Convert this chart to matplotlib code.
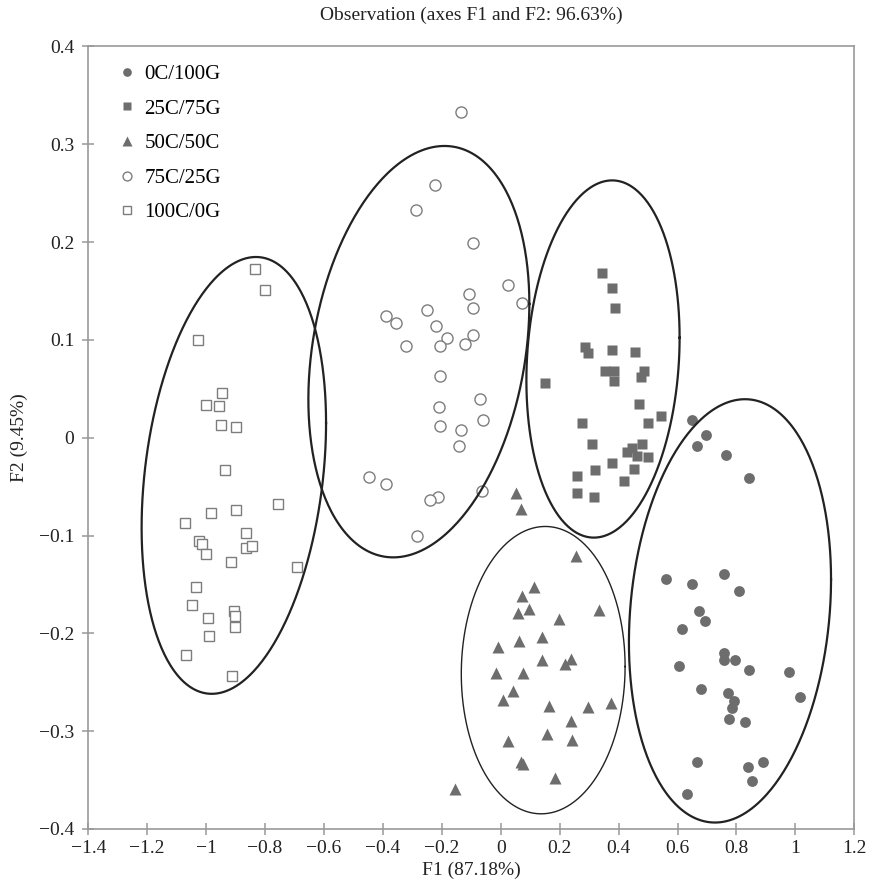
import numpy as np
import matplotlib.pyplot as plt
from matplotlib.ticker import FuncFormatter, MultipleLocator

plt.rcParams['font.family'] = ['Liberation Serif', 'DejaVu Serif']

# observation scores on F1 / F2, by blend
f1_0c = [0.649, 0.697, 0.667, 0.765, 0.843, 0.561, 0.649, 0.756, 0.809, 0.673,
         0.692, 0.615, 0.756, 0.758, 0.794, 0.843, 0.980, 0.605, 0.679, 0.771,
         0.790, 0.785, 1.014, 0.775, 0.828, 0.667, 0.838, 0.890, 0.853, 0.631]
f2_0c = [0.018, 0.003, -0.008, -0.018, -0.041, -0.144, -0.150, -0.139, -0.157, -0.177,
         -0.187, -0.196, -0.220, -0.227, -0.227, -0.237, -0.240, -0.233, -0.257, -0.261,
         -0.269, -0.276, -0.265, -0.288, -0.291, -0.332, -0.337, -0.331, -0.351, -0.364]

f1_25c = [0.345, 0.379, 0.388, 0.286, 0.297, 0.379, 0.457, 0.355, 0.385, 0.385,
          0.486, 0.476, 0.150, 0.470, 0.544, 0.277, 0.499, 0.310, 0.481, 0.447,
          0.428, 0.462, 0.499, 0.379, 0.321, 0.451, 0.258, 0.419, 0.258, 0.316]
f2_25c = [0.168, 0.153, 0.133, 0.093, 0.087, 0.090, 0.088, 0.068, 0.068, 0.058,
          0.068, 0.062, 0.056, 0.034, 0.022, 0.015, 0.015, -0.006, -0.006, -0.010,
          -0.015, -0.019, -0.020, -0.026, -0.033, -0.032, -0.039, -0.044, -0.057, -0.061]

f1_50c = [0.053, 0.067, 0.257, 0.112, 0.072, 0.096, 0.059, 0.335, 0.199, -0.010,
          0.062, 0.140, 0.140, 0.240, 0.219, -0.015, 0.077, 0.043, 0.009, 0.164,
          0.295, 0.374, 0.238, 0.025, 0.158, 0.242, 0.067, 0.076, 0.184, -0.155]
f2_50c = [-0.057, -0.073, -0.121, -0.153, -0.162, -0.175, -0.179, -0.176, -0.185, -0.214,
          -0.208, -0.204, -0.227, -0.226, -0.231, -0.241, -0.241, -0.259, -0.268, -0.274,
          -0.275, -0.271, -0.290, -0.310, -0.303, -0.309, -0.332, -0.334, -0.348, -0.359]

f1_75c = [-0.136, -0.224, -0.288, -0.093, 0.024, -0.108, 0.071, -0.093, -0.249, -0.389,
          -0.355, -0.220, -0.181, -0.093, -0.321, -0.206, -0.122, -0.205, -0.069, -0.209,
          -0.059, -0.205, -0.136, -0.142, -0.448, -0.389, -0.063, -0.214, -0.240, -0.283]
f2_75c = [0.333, 0.258, 0.233, 0.199, 0.156, 0.147, 0.138, 0.133, 0.131, 0.124,
          0.117, 0.114, 0.102, 0.105, 0.094, 0.094, 0.096, 0.063, 0.040, 0.031,
          0.018, 0.012, 0.008, -0.008, -0.040, -0.047, -0.054, -0.061, -0.064, -0.100]

f1_100c = [-0.834, -0.800, -1.029, -0.945, -1.000, -0.955, -0.950, -0.897, -0.936, -0.756,
           -0.897, -0.984, -1.071, -0.864, -1.023, -1.014, -0.999, -0.864, -0.844, -0.917,
           -0.692, -1.033, -1.048, -0.995, -0.906, -0.903, -0.902, -0.990, -1.067, -0.912]
f2_100c = [0.173, 0.151, 0.100, 0.046, 0.033, 0.032, 0.013, 0.011, -0.033, -0.068,
           -0.074, -0.077, -0.087, -0.097, -0.106, -0.109, -0.119, -0.113, -0.111, -0.127,
           -0.132, -0.153, -0.171, -0.184, -0.177, -0.182, -0.193, -0.203, -0.222, -0.244]

labels = ['0C/100G', '25C/75G', '50C/50C', '75C/25G', '100C/0G']

# group ellipses: centre x, centre y, half width, half height, x offset of top point
ellipse_cx = [0.778, 0.347, 0.144, -0.278, -0.906]
ellipse_cy = [-0.177, 0.0805, -0.2376, 0.088, -0.0385]
ellipse_a = [0.343, 0.260, 0.278, 0.375, 0.313]
ellipse_b = [0.2164, 0.1826, 0.1469, 0.2103, 0.2233]
ellipse_top_dx = [0.051, 0.031, 0.007, 0.087, 0.075]
ellipse_lw = [1.6, 1.6, 1.0, 1.6, 1.6]

FILL = '#6d6d6d'
EDGE = '#7d7d7d'
TEXT = '#222222'

fig = plt.figure(figsize=(8.69, 8.89), dpi=100)
ax = fig.add_axes([0.1016, 0.0675, 0.8815, 0.8802])

ax.plot(f1_0c, f2_0c, 'o', ms=7.8, mfc=FILL, mec='none', label=labels[0])
ax.plot(f1_25c, f2_25c, 's', ms=7.0, mfc=FILL, mec='none', label=labels[1])
ax.plot(f1_50c, f2_50c, '^', ms=8.6, mfc=FILL, mec='none', label=labels[2])
ax.plot(f1_75c, f2_75c, 'o', ms=8.0, mfc='white', mec=EDGE, mew=1.0, label=labels[3])
ax.plot(f1_100c, f2_100c, 's', ms=7.0, mfc='white', mec=EDGE, mew=1.0, label=labels[4])

t = np.linspace(0, 2 * np.pi, 400)
for cx, cy, a, b, dx, lw in zip(ellipse_cx, ellipse_cy, ellipse_a, ellipse_b,
                                ellipse_top_dx, ellipse_lw):
    phi = np.arccos(dx / a)
    ax.plot(cx + a * np.cos(t), cy + b * np.cos(t - phi), color='#222222', lw=lw)

ax.set_xlim(-1.4, 1.2)
ax.set_ylim(-0.4, 0.4)
ax.xaxis.set_major_locator(MultipleLocator(0.2))
ax.yaxis.set_major_locator(MultipleLocator(0.1))


def fmt(v, pos):
    s = '%g' % round(v, 6)
    if s in ('-0', '0'):
        return '0'
    return s.replace('-', '\u2212')


ax.xaxis.set_major_formatter(FuncFormatter(fmt))
ax.yaxis.set_major_formatter(FuncFormatter(fmt))

for sp in ax.spines.values():
    sp.set_color('#999999')
    sp.set_linewidth(1.2)
ax.tick_params(direction='inout', length=8, width=1.1, color='#999999',
               labelsize=14, labelcolor=TEXT)
ax.tick_params(axis='x', pad=4)
ax.tick_params(axis='y', pad=6)

ax.set_title('Observation (axes F1 and F2: 96.63%)', fontsize=14, pad=19, color=TEXT)
ax.set_xlabel('F1 (87.18%)', fontsize=14, labelpad=3, color=TEXT)
ax.set_ylabel('F2 (9.45%)', fontsize=14, labelpad=8, color=TEXT)

ax.legend(loc='upper left', bbox_to_anchor=(0.038, 0.977), frameon=False,
          fontsize=15, markerscale=0.8, handlelength=0.9, handletextpad=0.4,
          labelspacing=0.72, borderpad=0, borderaxespad=0)

fig.savefig('out.png', dpi=100)
